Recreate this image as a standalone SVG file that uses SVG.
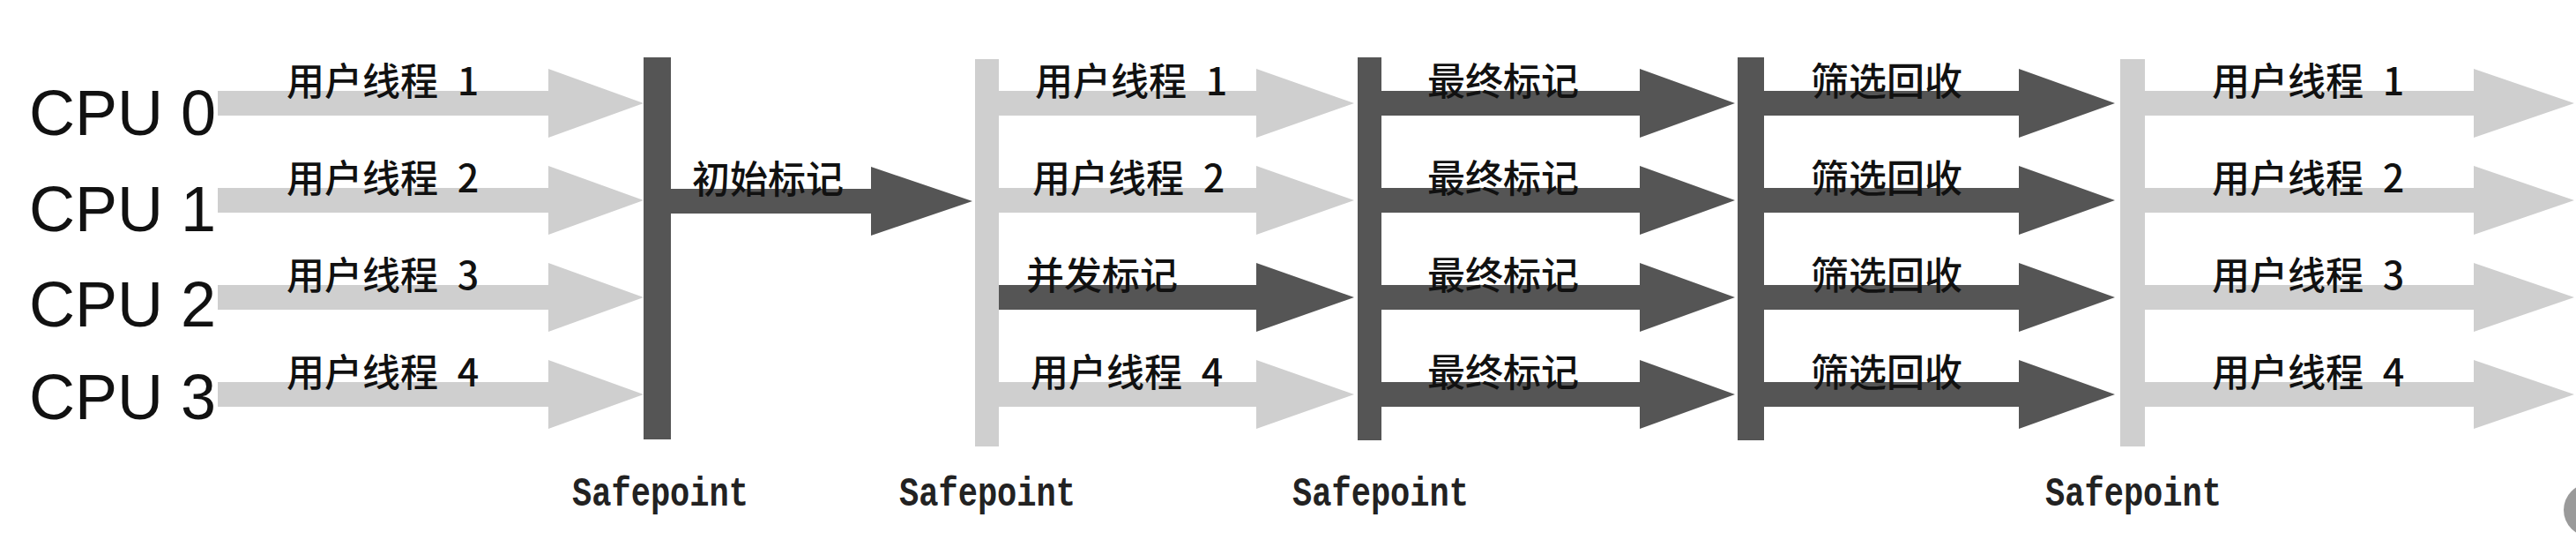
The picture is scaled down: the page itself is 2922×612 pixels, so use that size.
<svg xmlns="http://www.w3.org/2000/svg" width="2922" height="612" viewBox="0 0 2922 612">
<style>
.lt{fill:#cfcfcf}
.dk{fill:#555555}
.cpu{font-family:"Liberation Sans",Arial,sans-serif;font-size:72px;fill:#111}
.lb{font-family:"Noto Sans CJK SC","Noto Sans",sans-serif;font-size:43px;font-weight:500;fill:#111}
.sp{font-family:"Liberation Mono","Courier New",monospace;font-size:47px;font-weight:bold;fill:#222;text-anchor:middle}
</style>
<rect width="2922" height="612" fill="#ffffff"/>
<g id="connectors">
<path class="lt" d="M247,103H622V78L730,117L622,156V131H247Z"/>
<path class="lt" d="M247,213H622V188L730,227L622,266V241H247Z"/>
<path class="lt" d="M247,323H622V298L730,337L622,376V351H247Z"/>
<path class="lt" d="M247,433H622V408L730,447L622,486V461H247Z"/>
<path class="dk" d="M761,214H988V189L1103,228L988,267V242H761Z"/>
<path class="lt" d="M1133,103H1425V78L1536,117L1425,156V131H1133Z"/>
<path class="lt" d="M1133,213H1425V188L1536,227L1425,266V241H1133Z"/>
<path class="dk" d="M1133,323H1425V298L1536,337L1425,376V351H1133Z"/>
<path class="lt" d="M1133,433H1425V408L1536,447L1425,486V461H1133Z"/>
<path class="dk" d="M1567,103H1860V78L1968,117L1860,156V131H1567Z"/>
<path class="dk" d="M1567,213H1860V188L1968,227L1860,266V241H1567Z"/>
<path class="dk" d="M1567,323H1860V298L1968,337L1860,376V351H1567Z"/>
<path class="dk" d="M1567,433H1860V408L1968,447L1860,486V461H1567Z"/>
<path class="dk" d="M2001,103H2290V78L2399,117L2290,156V131H2001Z"/>
<path class="dk" d="M2001,213H2290V188L2399,227L2290,266V241H2001Z"/>
<path class="dk" d="M2001,323H2290V298L2399,337L2290,376V351H2001Z"/>
<path class="dk" d="M2001,433H2290V408L2399,447L2290,486V461H2001Z"/>
<path class="lt" d="M2433,103H2806V78L2920,117L2806,156V131H2433Z"/>
<path class="lt" d="M2433,213H2806V188L2920,227L2806,266V241H2433Z"/>
<path class="lt" d="M2433,323H2806V298L2920,337L2806,376V351H2433Z"/>
<path class="lt" d="M2433,433H2806V408L2920,447L2806,486V461H2433Z"/>
</g>
<g id="cpus">
<text class="cpu" x="33" y="153">CPU 0</text>
<text class="cpu" x="33" y="262">CPU 1</text>
<text class="cpu" x="33" y="370">CPU 2</text>
<text class="cpu" x="33" y="475">CPU 3</text>
</g>
<g id="safepoint1"><rect class="dk" x="730" y="65" width="31" height="433"/><text class="sp" x="749" y="573" textLength="200" lengthAdjust="spacingAndGlyphs">Safepoint</text></g>
<g id="safepoint2"><rect class="lt" x="1106" y="67" width="27" height="439"/><text class="sp" x="1120" y="573" textLength="200" lengthAdjust="spacingAndGlyphs">Safepoint</text></g>
<g id="safepoint3"><rect class="dk" x="1540" y="65" width="27" height="434"/><text class="sp" x="1566" y="573" textLength="200" lengthAdjust="spacingAndGlyphs">Safepoint</text></g>
<g id="bar4"><rect class="dk" x="1971" y="65" width="30" height="434"/></g>
<g id="safepoint4"><rect class="lt" x="2405" y="67" width="28" height="439"/><text class="sp" x="2420" y="573" textLength="200" lengthAdjust="spacingAndGlyphs">Safepoint</text></g>
<g id="labels">
<text class="lb" x="325" y="108">用户线程 <tspan dx="12">1</tspan></text>
<text class="lb" x="325" y="218">用户线程 <tspan dx="12">2</tspan></text>
<text class="lb" x="325" y="328">用户线程 <tspan dx="12">3</tspan></text>
<text class="lb" x="325" y="438">用户线程 <tspan dx="12">4</tspan></text>
<text class="lb" x="785" y="219">初始标记</text>
<text class="lb" x="1174" y="108">用户线程 <tspan dx="12">1</tspan></text>
<text class="lb" x="1171" y="218">用户线程 <tspan dx="12">2</tspan></text>
<text class="lb" x="1164" y="328">并发标记</text>
<text class="lb" x="1169" y="438">用户线程 <tspan dx="12">4</tspan></text>
<text class="lb" x="1619" y="108">最终标记</text>
<text class="lb" x="1619" y="218">最终标记</text>
<text class="lb" x="1619" y="328">最终标记</text>
<text class="lb" x="1619" y="438">最终标记</text>
<text class="lb" x="2054" y="108">筛选回收</text>
<text class="lb" x="2054" y="218">筛选回收</text>
<text class="lb" x="2054" y="328">筛选回收</text>
<text class="lb" x="2054" y="438">筛选回收</text>
<text class="lb" x="2509" y="108">用户线程 <tspan dx="12">1</tspan></text>
<text class="lb" x="2509" y="218">用户线程 <tspan dx="12">2</tspan></text>
<text class="lb" x="2509" y="328">用户线程 <tspan dx="12">3</tspan></text>
<text class="lb" x="2509" y="438">用户线程 <tspan dx="12">4</tspan></text>
</g>
<circle cx="2938" cy="578" r="30" fill="#9a9a9a"/>
</svg>
